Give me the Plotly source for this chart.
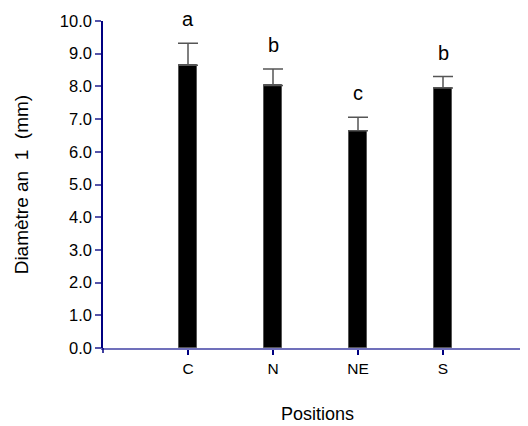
import plotly.graph_objects as go

categories = ["C", "N", "NE", "S"]
means = [8.65, 8.03, 6.64, 7.95]
errors = [0.67, 0.50, 0.42, 0.35]
letters = ["a", "b", "c", "b"]
y_ticks = [0, 1, 2, 3, 4, 5, 6, 7, 8, 9, 10]
y_tick_labels = [f"{v:.1f}" for v in y_ticks]

FONT = "Liberation Sans, Arial, sans-serif"

fig = go.Figure()
fig.add_trace(go.Bar(
    x=categories, y=means, width=0.21,
    marker=dict(color="black", line=dict(color="#555555", width=1)),
    error_y=dict(type="data", array=errors, symmetric=False, arrayminus=[0]*4,
                 color="#555555", thickness=1.5, width=10),
))
for c, m, e, l in zip(categories, means, errors, letters):
    fig.add_annotation(x=c, y=m + e, text=l, showarrow=False, yanchor="bottom",
                       yshift=11, font=dict(size=20, color="black", family=FONT))

# axis titles
fig.add_annotation(xref="paper", yref="paper", x=0.505, y=-0.202, text="Positions",
                   showarrow=False, xanchor="center", yanchor="middle",
                   font=dict(size=18, family=FONT, color="black"))
fig.add_annotation(xref="paper", yref="paper", x=-0.191, y=0.50, text="Diamètre an  1  (mm)",
                   showarrow=False, xanchor="center", yanchor="middle", textangle=-90,
                   font=dict(size=19, family=FONT, color="black"))
# small extension of the y axis line below zero
fig.add_shape(type="line", xref="paper", yref="paper", x0=0, x1=0, y0=0, y1=-0.015,
              line=dict(color="#000080", width=1.5))

# page body has an 8px margin: size the figure so the page fills the window
fig.update_layout(
    width=520, height=418,
    margin=dict(l=95, r=0, t=13, b=78, autoexpand=False),
    paper_bgcolor="white", plot_bgcolor="white",
    font=dict(family=FONT, size=16, color="black"),
    showlegend=False,
    bargap=0,
)
fig.update_xaxes(
    type="category", range=[-1, 4], showline=True, linecolor="#7070bb", linewidth=2,
    ticks="outside", ticklen=5, tickcolor="#000080", tickwidth=1.5,
    showgrid=False, zeroline=False, automargin=False,
    tickfont=dict(size=15.5),
)
fig.update_yaxes(
    range=[0, 10], tickvals=y_ticks, ticktext=y_tick_labels,
    showline=True, linecolor="#000080", linewidth=1.5,
    ticks="outside", ticklen=6, tickcolor="#5555aa", tickwidth=1.5,
    showgrid=False, zeroline=False, automargin=False,
    tickfont=dict(size=16.5),
)
fig.write_html("out.html")
